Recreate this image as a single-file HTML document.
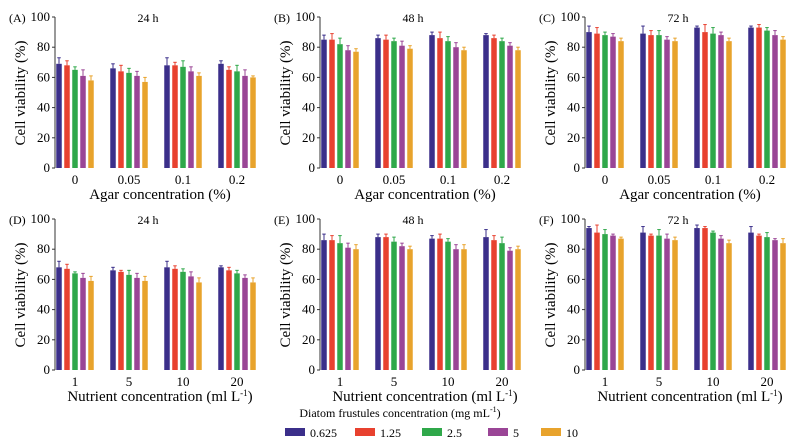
<!DOCTYPE html>
<html><head><meta charset="utf-8"><style>
body{margin:0;background:#fff}
svg{font-family:"Liberation Serif",serif;display:block}
</style></head><body>
<svg id="c" width="801" height="447" viewBox="0 0 801 447"></svg>
<script>
const agarCats=["0","0.05","0.1","0.2"];
const nutrientCats=["1","5","10","20"];
const seriesNames=["0.625","1.25","2.5","5","10"];
const yTicks=[0,20,40,60,80,100];
const valsA=[[69,68,65,61,58],[66,64,63,61,57],[68,68,67,64,61],[69,65,64,61,60]];
const errsA=[[4,3,2,4,3],[3,4,3,3,3],[5,2,4,3,2],[2,2,4,4,1]];
const valsB=[[85,85,82,78,77],[86,85,84,81,79],[88,86,84,80,78],[88,86,84,81,78]];
const errsB=[[3,4,4,3,2],[2,3,2,3,2],[2,4,3,3,2],[1,2,2,2,2]];
const valsC=[[90,89,88,87,84],[89,88,88,85,84],[93,90,89,88,84],[93,93,91,88,85]];
const errsC=[[4,4,2,2,2],[5,3,3,2,2],[1,5,4,2,2],[1,2,2,3,2]];
const valsD=[[68,67,64,61,59],[66,65,63,61,59],[68,67,65,62,58],[68,66,64,61,58]];
const errsD=[[4,3,1,3,3],[2,1,3,3,3],[4,2,2,3,3],[1,2,2,2,3]];
const valsE=[[86,86,84,81,80],[88,88,85,82,80],[87,87,85,80,80],[88,86,84,79,80]];
const errsE=[[4,3,5,3,3],[2,2,3,2,2],[2,3,2,3,3],[5,3,4,2,2]];
const valsF=[[94,91,90,89,87],[91,89,89,87,86],[94,94,91,87,84],[91,89,88,86,84]];
const errsF=[[1,5,3,1,1],[4,1,4,3,2],[2,1,1,2,2],[4,1,3,1,3]];
const colors=["#3b2f8a","#e8412f","#2fa84a","#9a4596","#e8a32c"];
const NS="http://www.w3.org/2000/svg";
const svg=document.getElementById('c');
function mk(tag,attrs,parent){const e=document.createElementNS(NS,tag);for(const k in attrs)e.setAttribute(k,attrs[k]);(parent||svg).appendChild(e);return e;}
const panels=[
{l:"(A)",t:"24 h",v:valsA,e:errsA,c:agarCats,xt:"Agar concentration (%)",ax:55,y0:168},
{l:"(B)",t:"48 h",v:valsB,e:errsB,c:agarCats,xt:"Agar concentration (%)",ax:320,y0:168},
{l:"(C)",t:"72 h",v:valsC,e:errsC,c:agarCats,xt:"Agar concentration (%)",ax:585,y0:168},
{l:"(D)",t:"24 h",v:valsD,e:errsD,c:nutrientCats,xt:"Nutrient concentration (ml L",ax:55,y0:370},
{l:"(E)",t:"48 h",v:valsE,e:errsE,c:nutrientCats,xt:"Nutrient concentration (ml L",ax:320,y0:370},
{l:"(F)",t:"72 h",v:valsF,e:errsF,c:nutrientCats,xt:"Nutrient concentration (ml L",ax:585,y0:370}];
panels.forEach((p,pi)=>{
  const g=mk('g',{});
  
  
  const H=151;
  const y=v=>p.y0-v/100*H;
  const xc=i=>p.ax+20+i*54;
  const axis=mk('line',{x1:p.ax,x2:p.ax,y1:y(100),y2:p.y0,stroke:'#333','stroke-width':1},g);
  
  yTicks.forEach(t=>{
    mk('line',{x1:p.ax-3,x2:p.ax,y1:y(t),y2:y(t),stroke:'#333'},g);
    const tx=mk('text',{x:p.ax-5,y:y(t)+4,'text-anchor':'end','font-size':13},g);
    tx.textContent=t;
    
  });
  p.c.forEach((cat,i)=>{
    p.v[i].forEach((val,s)=>{
      const bx=xc(i)+(s-2)*8-2.75;
      const r=mk('rect',{x:bx,y:y(val),width:5.5,height:p.y0-y(val),fill:colors[s]},g);
      
      
      const et=y(val+p.e[i][s]);
      mk('line',{x1:bx+2.75,x2:bx+2.75,y1:et,y2:y(val),stroke:colors[s],'stroke-width':1},g);
      mk('line',{x1:bx+1,x2:bx+4.5,y1:et,y2:et,stroke:colors[s],'stroke-width':1},g);
    });
    const tl=mk('text',{x:xc(i),y:p.y0+16,'text-anchor':'middle','font-size':13},g);
    tl.textContent=cat;
    
  });
  const xt=mk('text',{x:p.ax+105,y:p.y0+31,'text-anchor':'middle','font-size':15},g);
  xt.textContent=p.xt;
  if(pi>=3){const sp=mk('tspan',{'font-size':9,dy:-5},xt);sp.textContent="-1";const sp2=mk('tspan',{dy:5},xt);sp2.textContent=")";}
  
  const yt=mk('text',{x:0,y:0,'text-anchor':'middle','font-size':15,transform:`translate(${p.ax-30},${p.y0-75}) rotate(-90)`},g);
  yt.textContent="Cell viability (%)";
  
  const tt=mk('text',{x:p.ax+93,y:p.y0-146,'text-anchor':'middle','font-size':12},g);
  tt.textContent=p.t;
  
  const lb=mk('text',{x:p.ax-46,y:p.y0-146,'font-size':12},g);
  lb.textContent=p.l;
  
});
const lt=mk('text',{x:400,y:417,'text-anchor':'middle','font-size':12});
lt.textContent="Diatom frustules concentration (mg mL";
const ls=mk('tspan',{'font-size':8,dy:-5},lt);ls.textContent="-1";
const ls2=mk('tspan',{dy:5},lt);ls2.textContent=")";

const lx=[285,355,422,488,541];
seriesNames.forEach((n,s)=>{
  const g=mk('g',{});
  
  
  mk('rect',{x:lx[s],y:428,width:20,height:8,fill:colors[s]},g);
  const t=mk('text',{x:lx[s]+25,y:437,'font-size':12},g);t.textContent=n;
});
</script>
</body></html>
